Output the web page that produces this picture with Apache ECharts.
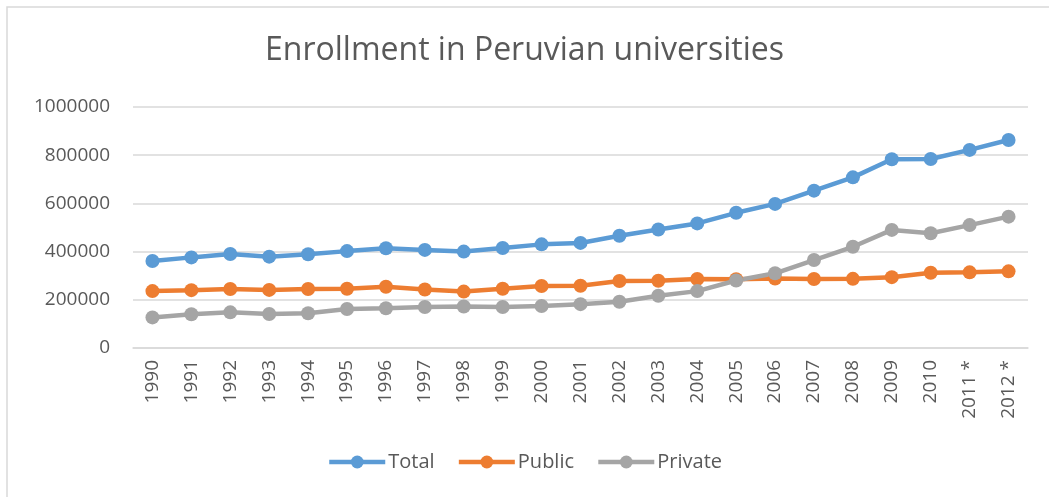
<!DOCTYPE html>
<html>
<head>
<meta charset="utf-8">
<script src="https://cdn.jsdelivr.net/npm/echarts@6/dist/echarts.min.js"></script>
<style>
html,body{margin:0;padding:0;background:#fff;}
#chart{width:1049px;height:497px;}
</style>
</head>
<body>
<div id="chart"></div>
<script>
const categories = ['1990','1991','1992','1993','1994','1995','1996','1997','1998','1999','2000','2001','2002','2003','2004','2005','2006','2007','2008','2009','2010','2011 *','2012 *'];
const totalValues = [361000,376000,390000,379000,389000,402000,414000,407000,400000,415000,430000,436000,466000,492000,517000,561000,598000,653000,708000,783000,784000,822000,863000];
const publicValues = [236000,240000,245000,241000,245000,246000,254000,243000,234000,246000,257000,258000,278000,279000,286000,285000,288000,286000,287000,294000,312000,314000,318000];
const privateValues = [127000,140000,148000,141000,144000,162000,165000,170000,172000,170000,174000,182000,192000,217000,236000,280000,310000,365000,420000,490000,476000,510000,545000];
const yTicks = {min:0, max:1000000, interval:200000};

const textColor = '#595959';
const font = 'Open Sans';
const chart = echarts.init(document.getElementById('chart'));
const mk = (name, data, color) => ({
  name, type:'line', data,
  symbol:'circle', symbolSize:14,
  lineStyle:{width:4.5, color},
  itemStyle:{color},
  emphasis:{disabled:true},
  animation:false
});
chart.setOption({
  animation:false,
  graphic:[{type:'rect', shape:{x:7,y:7,width:1200,height:1200}, style:{fill:'none', stroke:'#D9D9D9', lineWidth:1.5}, silent:true}],
  title:{text:'Enrollment in Peruvian universities', left:'center', top:30,
    textStyle:{color:textColor, fontSize:32, fontWeight:'normal', fontFamily:font}},
  grid:{left:133, right:21, top:107, bottom:149, containLabel:false},
  legend:{bottom:20, left:'center', itemWidth:56, itemHeight:16, itemGap:22,
    lineStyle:{width:4.5},
    textStyle:{color:textColor, fontSize:20, fontFamily:font, padding:[0,0,0,-2]},
    data:['Total','Public','Private']},
  xAxis:{type:'category', data:categories, boundaryGap:true,
    axisLine:{lineStyle:{color:'#D9D9D9', width:1.5}},
    axisTick:{show:false},
    axisLabel:{rotate:90, color:textColor, fontSize:19, fontFamily:font, margin:12, interval:0}},
  yAxis:{type:'value', min:yTicks.min, max:yTicks.max, interval:yTicks.interval,
    axisLine:{show:false}, axisTick:{show:false},
    splitLine:{lineStyle:{color:'#D9D9D9', width:1.5}},
    axisLabel:{color:textColor, fontSize:19, fontFamily:font, margin:23, formatter:v => String(v)}},
  series:[
    mk('Total', totalValues, '#5B9BD5'),
    mk('Public', publicValues, '#ED7D31'),
    mk('Private', privateValues, '#A5A5A5')
  ]
});
</script>
</body>
</html>
